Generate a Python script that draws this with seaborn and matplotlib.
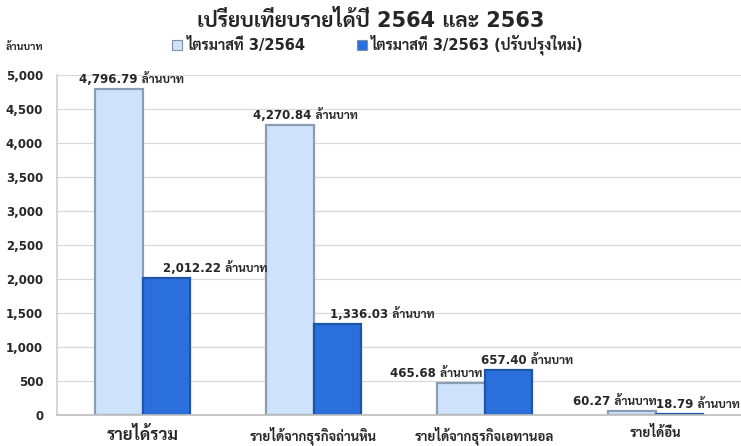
import matplotlib
matplotlib.use("Agg")
import matplotlib.pyplot as plt
import seaborn as sns
import pandas as pd

categories = ["รายได้รวม", "รายได้จากธุรกิจถ่านหิน", "รายได้จากธุรกิจเอทานอล", "รายได้อื่น"]
series = ["ไตรมาสที่ 3/2564", "ไตรมาสที่ 3/2563 (ปรับปรุงใหม่)"]
q3_2564 = [4796.79, 4270.84, 465.68, 60.27]
q3_2563 = [2012.22, 1336.03, 657.40, 18.79]
yticks = [0, 500, 1000, 1500, 2000, 2500, 3000, 3500, 4000, 4500, 5000]

df = pd.DataFrame({
    "category": categories * 2,
    "period": [series[0]] * len(categories) + [series[1]] * len(categories),
    "value": q3_2564 + q3_2563,
})

sns.set_theme(style="white")
plt.rcParams["font.family"] = ["DejaVu Sans", "Sarabun", "Noto Sans Thai Looped"]
plt.rcParams["font.weight"] = "bold"

fig = plt.figure(figsize=(7.41, 4.46), dpi=100)
ax = fig.add_axes([0.077, 0.0695, 0.923, 0.7625])

light, dark = "#cfe2fb", "#2a6fdb"
sns.barplot(
    data=df, x="category", y="value", hue="period",
    palette=[light, dark], saturation=1, width=0.56, gap=0,
    edgecolor="none", ax=ax, legend=True,
)

# bevel-ish edges
for i, bar in enumerate(ax.patches[:2 * len(categories)]):
    if i < len(categories):
        bar.set_edgecolor("#8a9db5")
    else:
        bar.set_edgecolor("#1d55ad")
    bar.set_linewidth(1.6)

ax.set_ylim(0, 5000)
ax.set_yticks(yticks)
ax.set_yticklabels([f"{t:,}" for t in yticks], fontsize=8.5, fontweight="bold")
ax.yaxis.grid(True, color="#d9d9d9", lw=0.9)
ax.set_axisbelow(True)
ax.set_xlabel("")
ax.set_ylabel("")
for s in ["top", "right"]:
    ax.spines[s].set_visible(False)
ax.spines["left"].set_color("#d0d0d0")
ax.spines["bottom"].set_color("#bfbfbf")
ax.tick_params(axis="y", length=0, pad=10)
ax.tick_params(axis="x", length=0, pad=8)
ax.set_xlim(-0.5, 3.5)
for k, lab in enumerate(ax.get_xticklabels()):
    lab.set_fontweight("bold")
    lab.set_fontsize(12 if k == 0 else 9.5)

# value labels
nudge = [13, 16, -24, -17, 49, 45, 19, 18]
vals = q3_2564 + q3_2563
for i, bar in enumerate(ax.patches[:2 * len(categories)]):
    cx = bar.get_x() + bar.get_width() / 2
    ax.annotate(
        f"{vals[i]:,.2f} ล้านบาท", (cx, bar.get_height()),
        xytext=(nudge[i], 3), textcoords="offset pixels",
        ha="center", va="bottom", fontsize=8.5, fontweight="bold",
        annotation_clip=False, clip_on=False,
    )

ax.legend(
    loc="center", bbox_to_anchor=(0.51, 0.899), bbox_transform=fig.transFigure,
    ncol=2, frameon=False, handlelength=0.7, handleheight=0.7,
    handletextpad=0.3, columnspacing=3.5, prop={"size": 10.5, "weight": "bold"},
)
for h in ax.get_legend().legend_handles:
    h.set_edgecolor("#7f8fa6")
    h.set_linewidth(0.8)

fig.text(0.5, 0.955, "เปรียบเทียบรายได้ปี 2564 และ 2563",
         ha="center", va="center", fontsize=15, fontweight="bold")
fig.text(0.008, 0.895, "ล้านบาท", ha="left", va="center",
         fontsize=7.5, fontweight="bold")

fig.savefig("out.png", dpi=100)
